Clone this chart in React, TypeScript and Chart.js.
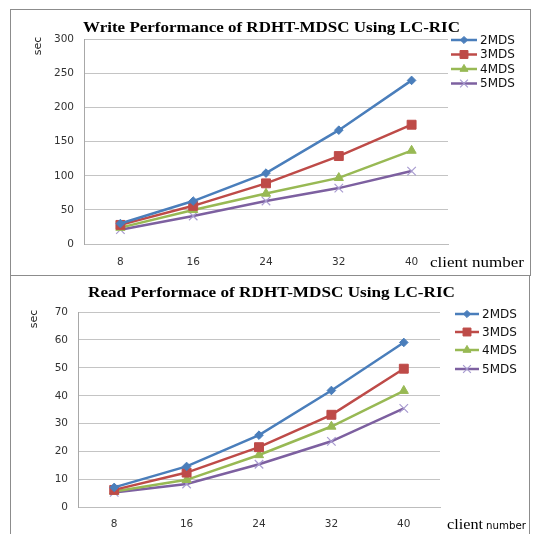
import React, { useEffect, useRef } from "react";
import { Chart, registerables } from "chart.js";
import { drawPoint } from "chart.js/helpers";

Chart.register(...registerables);

// ---------- data ----------
const clientNumbers = ["8", "16", "24", "32", "40"];
const seriesLabels = ["2MDS", "3MDS", "4MDS", "5MDS"];

const write2MDS = [30, 63, 104, 167, 240];
const write3MDS = [28, 56, 89, 129, 175];
const write4MDS = [24, 50, 74, 97, 137];
const write5MDS = [21, 41, 63, 82, 107];

const read2MDS = [7.2, 14.7, 25.9, 41.9, 59.1];
const read3MDS = [6.3, 12.5, 21.6, 33.2, 49.7];
const read4MDS = [5.7, 9.9, 18.8, 29.0, 41.8];
const read5MDS = [5.4, 8.4, 15.5, 23.7, 35.5];

const writeTickValues = [0, 50, 100, 150, 200, 250, 300];
const readTickValues = [0, 10, 20, 30, 40, 50, 60, 70];

const writeTitle = "Write Performance of RDHT-MDSC Using LC-RIC";
const readTitle = "Read Performace of RDHT-MDSC Using LC-RIC";

// ---------- styles ----------
const seriesStyles = [
  { color: "#4A7EBB", point: "rectRot", radius: 4.3, pointColor: "#4A7EBB", pointBorder: 1, legendRadius: 3.6 },
  { color: "#BE4B48", point: "rect", radius: 6.3, pointColor: "#BE4B48", pointBorder: 1, legendRadius: 5.6 },
  { color: "#98B954", point: "triangle", radius: 5.3, pointColor: "#98B954", pointBorder: 1, legendRadius: 4.6 },
  { color: "#7D60A0", point: "crossRot", radius: 6, pointColor: "#A89BD0", pointBorder: 1.2, legendRadius: 5.5 },
];

const SANS = "'DejaVu Sans', Verdana, sans-serif";
const SERIF = "'Liberation Serif', 'Times New Roman', serif";

function drawFitted(ctx: CanvasRenderingContext2D, text: string, x: number, y: number, font: string, width: number, align: "left" | "center") {
  ctx.save();
  ctx.font = font;
  const w = ctx.measureText(text).width;
  const s = width / w;
  ctx.translate(x, y);
  ctx.scale(s, 1);
  ctx.textAlign = align;
  ctx.textBaseline = "alphabetic";
  ctx.fillStyle = "#000";
  ctx.fillText(text, 0, 0);
  ctx.restore();
}

const decoPlugin = {
  id: "deco",
  afterDraw(chart: any, _args: any, opts: any) {
    const ctx: CanvasRenderingContext2D = chart.ctx;
    // title
    drawFitted(ctx, opts.title, opts.titleX, opts.titleY, `bold 15px ${SERIF}`, opts.titleW, "center");
    // y axis title
    ctx.save();
    ctx.translate(opts.secX, opts.secY);
    ctx.rotate(-Math.PI / 2);
    ctx.font = `11px ${SANS}`;
    ctx.fillStyle = "#222";
    ctx.textAlign = "center";
    ctx.textBaseline = "middle";
    ctx.fillText("sec", 0, 0);
    ctx.restore();
    // x axis title parts
    for (const part of opts.xTitle) {
      drawFitted(ctx, part.text, part.x, opts.xTitleY, part.font, part.w, "left");
    }
    // legend
    chart.data.datasets.forEach((ds: any, i: number) => {
      const st = seriesStyles[i];
      const y = opts.legendRows[i];
      ctx.save();
      ctx.strokeStyle = st.color;
      ctx.lineWidth = 2.5;
      ctx.beginPath();
      ctx.moveTo(opts.legendX1, y);
      ctx.lineTo(opts.legendX2, y);
      ctx.stroke();
      ctx.fillStyle = st.pointColor;
      ctx.strokeStyle = st.pointColor;
      ctx.lineWidth = st.pointBorder;
      drawPoint(ctx, { pointStyle: st.point, radius: st.legendRadius, rotation: 0, borderWidth: st.pointBorder } as any, (opts.legendX1 + opts.legendX2) / 2, y);
      ctx.font = `12px ${SANS}`;
      ctx.fillStyle = "#111";
      ctx.textAlign = "left";
      ctx.textBaseline = "middle";
      ctx.fillText(ds.label, opts.legendTextX, y + 0.5);
      ctx.restore();
    });
  },
};

function buildConfig(series: number[][], tickValues: number[], geo: any) {
  return {
    type: "line",
    data: {
      labels: clientNumbers,
      datasets: series.map((values, i) => {
        const st = seriesStyles[i];
        return {
          label: seriesLabels[i],
          data: values,
          borderColor: st.color,
          backgroundColor: st.color,
          borderWidth: 2.5,
          tension: 0,
          fill: false,
          pointStyle: st.point,
          pointRadius: st.radius,
          pointHoverRadius: st.radius,
          pointBackgroundColor: st.pointColor,
          pointBorderColor: st.pointColor,
          pointBorderWidth: st.pointBorder,
        };
      }),
    },
    options: {
      responsive: false,
      animation: false,
      devicePixelRatio: 1,
      layout: { padding: { left: 0, top: geo.top, right: geo.right, bottom: 0 } },
      scales: {
        x: {
          type: "category",
          offset: true,
          grid: { display: false, drawTicks: false },
          border: { display: true, color: "#bdbdbd", width: 1 },
          ticks: { padding: geo.xPad, font: { family: SANS, size: 10.5 }, color: "#333", maxRotation: 0, autoSkip: false },
          afterFit: (s: any) => { s.height = geo.xH; },
        },
        y: {
          min: tickValues[0],
          max: tickValues[tickValues.length - 1],
          ticks: { stepSize: tickValues[1] - tickValues[0], padding: 10, font: { family: SANS, size: 10.5 }, color: "#333" },
          grid: { color: "#c4c4c4", drawTicks: false, lineWidth: 1 },
          border: { display: true, color: "#a8a8a8", width: 1 },
          afterFit: (s: any) => { s.width = geo.left; },
        },
      },
      plugins: {
        legend: { display: false },
        tooltip: { enabled: false },
        title: { display: false },
        deco: geo.deco,
      },
    },
    plugins: [decoPlugin],
  };
}

function ChartCanvas({ config, top, width, height }: { config: any; top: number; width: number; height: number }) {
  const ref = useRef<HTMLCanvasElement | null>(null);
  useEffect(() => {
    if (!ref.current) return;
    const chart = new Chart(ref.current, config);
    return () => chart.destroy();
  }, [config]);
  return (
    <canvas
      ref={ref}
      width={width}
      height={height}
      style={{ position: "absolute", left: 0, top, width, height, display: "block" }}
    />
  );
}

const writeConfig = buildConfig([write2MDS, write3MDS, write4MDS, write5MDS], writeTickValues, {
  top: 39.5,
  right: 88,
  left: 84,
  xH: 31,
  xPad: 12,
  deco: {
    title: writeTitle,
    titleX: 271.5,
    titleY: 32,
    titleW: 377,
    secX: 38,
    secY: 46,
    xTitle: [{ text: "client number", x: 430, w: 94, font: `15px ${SERIF}` }],
    xTitleY: 267,
    legendX1: 451,
    legendX2: 477,
    legendTextX: 480,
    legendRows: [40, 54.5, 69, 83.5],
  },
});

const readConfig = buildConfig([read2MDS, read3MDS, read4MDS, read5MDS], readTickValues, {
  top: 37,
  right: 96,
  left: 78,
  xH: 26.5,
  xPad: 10.5,
  deco: {
    title: readTitle,
    titleX: 271.5,
    titleY: 22,
    titleW: 367,
    secX: 34,
    secY: 44,
    xTitle: [
      { text: "client", x: 447, w: 36, font: `14px ${SERIF}` },
      { text: "number", x: 486, w: 40, font: `10.5px ${SANS}` },
    ],
    xTitleY: 254,
    legendX1: 455,
    legendX2: 479,
    legendTextX: 482,
    legendRows: [39, 57, 75, 94],
  },
});

export default function App() {
  return (
    <div style={{ position: "absolute", left: 0, top: 0, width: 536, height: 534, overflow: "hidden", background: "#fff" }}>
      <ChartCanvas config={writeConfig} top={0} width={536} height={275} />
      <ChartCanvas config={readConfig} top={275} width={536} height={259} />
      <div style={{ position: "absolute", left: 10, top: 9, width: 521, height: 267, boxSizing: "border-box", border: "1px solid #8c8c8c", pointerEvents: "none" }} />
      <div style={{ position: "absolute", left: 10, top: 275, width: 520, height: 270, boxSizing: "border-box", borderLeft: "1px solid #8c8c8c", borderRight: "1px solid #8c8c8c", borderTop: "1px solid #8c8c8c", pointerEvents: "none" }} />
    </div>
  );
}
